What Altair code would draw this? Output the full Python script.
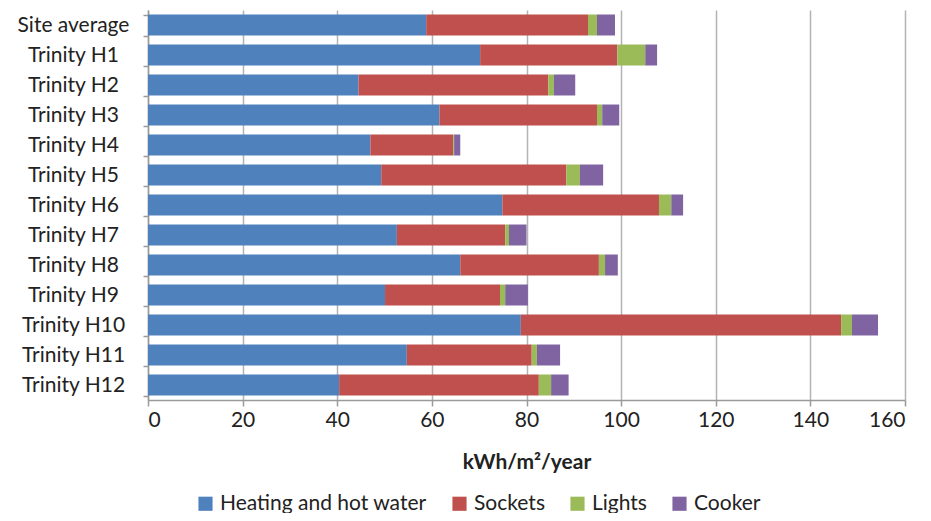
import altair as alt
import pandas as pd

sites = ["Site average", "Trinity H1", "Trinity H2", "Trinity H3", "Trinity H4",
         "Trinity H5", "Trinity H6", "Trinity H7", "Trinity H8", "Trinity H9",
         "Trinity H10", "Trinity H11", "Trinity H12"]
heating = [58.8, 70.2, 44.5, 61.6, 47.0, 49.3, 74.9, 52.6, 66.0, 50.1, 78.8, 54.7, 40.4]
sockets = [34.2, 29.0, 40.1, 33.3, 17.5, 39.1, 33.1, 22.9, 29.3, 24.3, 67.7, 26.4, 42.2]
lights = [1.9, 5.9, 1.2, 1.1, 0.2, 2.9, 2.6, 0.8, 1.3, 1.1, 2.3, 1.1, 2.6]
cooker = [3.8, 2.5, 4.5, 3.6, 1.3, 4.9, 2.5, 3.7, 2.7, 4.8, 5.5, 4.9, 3.7]

series = ["Heating and hot water", "Sockets", "Lights", "Cooker"]
colors = ["#4f81bd", "#c0504d", "#9bbb59", "#8064a2"]

rows = []
for i, s in enumerate(sites):
    for k, (name, vals) in enumerate(zip(series, [heating, sockets, lights, cooker])):
        rows.append({"site": s, "category": name, "value": vals[i], "ord": k})
df = pd.DataFrame(rows)

FONT = "Lato"
FS = 21

chart = alt.Chart(df).mark_bar(size=21).encode(
    y=alt.Y("site:N", sort=sites, title=None,
            scale=alt.Scale(paddingInner=0.3, paddingOuter=0.15),
            axis=alt.Axis(labelFontSize=FS, labelColor="#222", labelFont=FONT,
                          labelAlign="center", labelPadding=70,
                          ticks=True, tickBand="extent", tickSize=5, tickWidth=1.5,
                          tickColor="#9a9a9a", domainColor="#9a9a9a", domainWidth=1.5,
                          labelLimit=200)),
    x=alt.X("value:Q", stack="zero", title="kWh/m²/year",
            scale=alt.Scale(domain=[0, 160], nice=False),
            axis=alt.Axis(values=list(range(0, 161, 20)), labelFontSize=FS,
                          labelColor="#222", labelFont=FONT, grid=True,
                          gridColor="#b3b3b3", gridWidth=1.5, domainColor="#9a9a9a",
                          domainWidth=1.5, tickColor="#9a9a9a", tickSize=6,
                          tickWidth=1.5, labelPadding=3,
                          titleFontSize=FS, titleFontWeight="bold", titleFont=FONT,
                          titleColor="#222", titlePadding=21)),
    color=alt.Color("category:N", sort=series,
                    scale=alt.Scale(domain=series, range=colors),
                    legend=alt.Legend(title=None, orient="none", direction="horizontal",
                                      legendX=47, legendY=483,
                                      symbolType="square", symbolSize=200,
                                      symbolStrokeWidth=0, labelFontSize=FS,
                                      labelFont=FONT, labelColor="#222",
                                      labelLimit=400, columnPadding=22)),
    order=alt.Order("ord:Q", sort="ascending"),
).properties(
    width=757, height=390,
    autosize=alt.AutoSizeParams(type="none"),
    padding={"left": 140, "top": 2, "right": 18, "bottom": 113},
).configure_view(stroke=None)

chart.save("out.html", embed_options={"renderer": "svg", "actions": False})
